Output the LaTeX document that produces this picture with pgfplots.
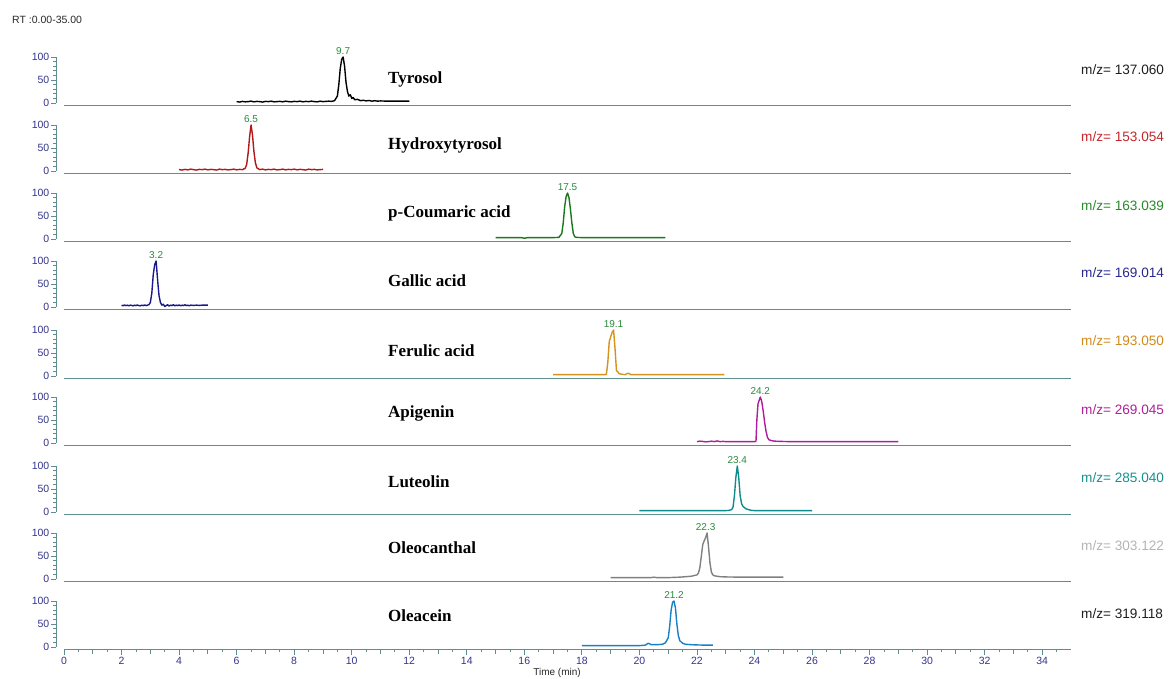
\documentclass[border=0pt]{standalone}
\usepackage{fontspec}
\setmainfont{Liberation Sans}
\newfontfamily\namefont{Liberation Serif}
\usepackage{pgfplots}
\pgfplotsset{compat=1.18}

\definecolor{axcol}{RGB}{95,142,142}
\definecolor{ticknavy}{RGB}{52,52,140}
\definecolor{peakgreen}{RGB}{40,138,58}
\definecolor{rtgray}{RGB}{40,40,40}
% trace colours
\definecolor{cTyr}{RGB}{0,0,0}
\definecolor{cHyd}{RGB}{178,24,24}
\definecolor{cCou}{RGB}{26,120,26}
\definecolor{cGal}{RGB}{24,24,140}
\definecolor{cFer}{RGB}{212,146,30}
\definecolor{cApi}{RGB}{176,28,158}
\definecolor{cLut}{RGB}{16,140,140}
\definecolor{cOlc}{RGB}{128,128,128}
\definecolor{cOla}{RGB}{24,128,196}
% m/z label colours
\definecolor{mTyr}{RGB}{30,30,30}
\definecolor{mHyd}{RGB}{196,38,44}
\definecolor{mCou}{RGB}{40,138,40}
\definecolor{mGal}{RGB}{40,40,144}
\definecolor{mFer}{RGB}{208,138,26}
\definecolor{mApi}{RGB}{176,32,154}
\definecolor{mLut}{RGB}{21,144,144}
\definecolor{mOlc}{RGB}{180,180,180}
\definecolor{mOla}{RGB}{30,30,30}

\pgfplotsset{
  panel/.style={
    width=1015pt, height=46pt, scale only axis,
    xmin=-0.28, xmax=35, ymin=0, ymax=100,
    axis x line=none, axis y line=left,
    anchor=south west,
    ytick={0,50,100}, yticklabels={0,50,100}, minor y tick num=4,
    tick align=outside,
    major tick length=5pt, minor tick length=3pt,
    y axis line style={-, draw=axcol, line width=0.9pt},
    every tick/.style={axcol, line width=0.8pt},
    yticklabel style={font=\fontsize{10.5}{11}\selectfont, text=ticknavy, inner sep=1.5pt},
    clip=false,
  },
  trace/.style={line width=1.4pt, line join=round, mark=none},
}
\tikzset{
  peaklbl/.style={font=\fontsize{10}{11}\selectfont, text=peakgreen, anchor=south, inner sep=1pt, yshift=1.5pt},
  baseln/.style={axcol, line width=1pt},
  cname/.style={anchor=west, font=\namefont\bfseries\fontsize{17}{19}\selectfont, inner sep=0pt},
  mzlbl/.style={anchor=west, font=\fontsize{13.6}{15}\selectfont, inner sep=0pt},
}

\begin{document}
\begin{tikzpicture}
\useasboundingbox (0,0) rectangle (1169pt,679pt);
\node[anchor=west, font=\fontsize{10.5}{12}\selectfont, text=rtgray, inner sep=0pt] at (12pt,659pt) {RT :0.00-35.00};

% Tyrosol
\begin{axis}[panel, at={(56pt,576pt)}]
\addplot[trace, cTyr] coordinates {
(6.0,3) (6.1,2) (6.2,3.5) (6.3,2.5) (6.4,3) (6.5,4) (6.6,2.5) (6.7,3.5) (6.8,3) (6.9,2)
(7.0,3.5) (7.1,3) (7.2,4) (7.3,2.5) (7.4,3) (7.5,3.5) (7.6,2.5) (7.7,4) (7.8,3) (7.9,2.5)
(8.0,3.5) (8.1,3) (8.2,4) (8.3,2.5) (8.4,3.5) (8.5,3) (8.6,4) (8.7,3) (8.8,2.5) (8.9,4)
(9.0,3) (9.1,3.5) (9.2,4) (9.3,3.5) (9.4,5) (9.5,15) (9.55,40) (9.6,75) (9.65,95) (9.7,100)
(9.75,80) (9.8,45) (9.85,25) (9.9,15) (9.95,18) (10.0,10) (10.05,12) (10.1,7) (10.2,8)
(10.3,5) (10.4,6) (10.5,4.5) (10.6,5.5) (10.7,4) (10.8,5) (10.9,4) (11.0,4.5) (11.2,4)
(11.5,4) (12.0,4)};
\draw[baseln] (axis cs:0,-6.5) -- (axis cs:35,-6.5);
\node[peaklbl] at (axis cs:9.7,100) {9.7};
\end{axis}

% Hydroxytyrosol
\begin{axis}[panel, at={(56pt,508pt)}]
\addplot[trace, cHyd] coordinates {
(4.0,3) (4.1,2) (4.2,3.5) (4.3,2.5) (4.4,4) (4.5,3) (4.6,2) (4.7,3.5) (4.8,3) (4.9,4)
(5.0,2.5) (5.1,3.5) (5.2,3) (5.3,2) (5.4,4) (5.5,3) (5.6,3.5) (5.7,2.5) (5.8,3) (5.9,4)
(6.0,2.5) (6.1,3.5) (6.2,3) (6.3,6) (6.35,15) (6.4,40) (6.45,75) (6.5,100) (6.55,78)
(6.6,42) (6.65,18) (6.7,7) (6.8,3) (6.9,4) (7.0,2.5) (7.1,3.5) (7.2,3) (7.3,4) (7.4,2.5)
(7.5,3) (7.6,4) (7.7,2.5) (7.8,3.5) (7.9,3) (8.0,4) (8.1,2.5) (8.2,3.5) (8.3,3) (8.4,2)
(8.5,4) (8.6,3) (8.7,3.5) (8.8,2.5) (8.9,3) (9.0,3.5)};
\draw[baseln] (axis cs:0,-6.5) -- (axis cs:35,-6.5);
\node[peaklbl] at (axis cs:6.5,100) {6.5};
\end{axis}

% p-Coumaric acid
\begin{axis}[panel, at={(56pt,440pt)}]
\addplot[trace, cCou] coordinates {
(15.0,3) (15.5,3) (15.9,3) (16.0,1.5) (16.1,3) (16.5,3) (17.0,3) (17.2,3.5) (17.3,12)
(17.35,35) (17.4,70) (17.45,92) (17.5,100) (17.55,90) (17.6,65) (17.65,35) (17.7,12)
(17.75,5) (17.8,3.5) (18.0,3) (19.0,3) (20.0,3) (20.9,3)};
\draw[baseln] (axis cs:0,-6.5) -- (axis cs:35,-6.5);
\node[peaklbl] at (axis cs:17.5,100) {17.5};
\end{axis}

% Gallic acid
\begin{axis}[panel, at={(56pt,372pt)}]
\addplot[trace, cGal] coordinates {
(2.0,4) (2.05,2.5) (2.1,4.5) (2.15,3) (2.2,4) (2.25,2.5) (2.3,4) (2.35,3.5) (2.4,2.5)
(2.45,4) (2.5,3) (2.55,4.5) (2.6,3) (2.65,2.5) (2.7,4) (2.75,3) (2.8,4.5) (2.85,3) (2.9,4)
(2.95,5) (3.0,10) (3.05,30) (3.1,70) (3.15,92) (3.2,100) (3.25,60) (3.3,25) (3.35,10)
(3.4,4) (3.45,6) (3.5,1) (3.55,3) (3.6,5) (3.65,2) (3.7,4) (3.75,3) (3.8,5) (3.85,2.5)
(3.9,4) (3.95,3) (4.0,4.5) (4.05,2.5) (4.1,4) (4.15,3) (4.2,5) (4.25,3) (4.3,4) (4.35,2.5)
(4.4,4) (4.5,3.5) (4.6,4) (4.7,3.5) (4.8,4) (5.0,4)};
\draw[baseln] (axis cs:0,-6.5) -- (axis cs:35,-6.5);
\node[peaklbl] at (axis cs:3.2,100) {3.2};
\end{axis}

% Ferulic acid
\begin{axis}[panel, at={(56pt,303pt)}]
\addplot[trace, cFer] coordinates {
(17.0,3) (18.0,3) (18.8,3) (18.85,4) (18.9,30) (18.95,75) (19.0,85) (19.05,95) (19.1,100)
(19.15,60) (19.2,12) (19.3,5) (19.4,3.5) (19.5,3) (19.6,6) (19.65,5) (19.7,3) (20.0,3)
(21.0,3) (22.0,3) (22.95,3)};
\draw[baseln] (axis cs:0,-6.5) -- (axis cs:35,-6.5);
\node[peaklbl] at (axis cs:19.1,100) {19.1};
\end{axis}

% Apigenin
\begin{axis}[panel, at={(56pt,236pt)}]
\addplot[trace, cApi] coordinates {
(22.0,3) (22.1,4) (22.2,3.5) (22.3,2.5) (22.4,3) (22.5,4) (22.6,3) (22.7,4.5) (22.8,3)
(22.9,3.5) (23.0,3) (23.5,3) (24.0,3) (24.05,4) (24.08,50) (24.12,85) (24.2,100)
(24.25,90) (24.3,70) (24.35,45) (24.4,25) (24.45,12) (24.5,7) (24.6,5) (24.7,4)
(24.9,3.5) (25.2,3) (26.0,3) (27.0,3) (28.0,3) (29.0,3)};
\draw[baseln] (axis cs:0,-6.5) -- (axis cs:35,-6.5);
\node[peaklbl] at (axis cs:24.2,100) {24.2};
\end{axis}

% Luteolin
\begin{axis}[panel, at={(56pt,167pt)}]
\addplot[trace, cLut] coordinates {
(20.0,3) (21.0,3) (22.0,3) (23.0,3) (23.1,3.5) (23.2,5) (23.25,10) (23.3,35) (23.35,75)
(23.4,100) (23.45,75) (23.5,35) (23.55,18) (23.6,12) (23.7,7) (23.8,5) (23.9,3.5)
(24.0,3) (25.0,3) (26.0,3)};
\draw[baseln] (axis cs:0,-6.5) -- (axis cs:35,-6.5);
\node[peaklbl] at (axis cs:23.4,100) {23.4};
\end{axis}

% Oleocanthal
\begin{axis}[panel, at={(56pt,100pt)}]
\addplot[trace, cOlc] coordinates {
(19.0,3) (19.5,3) (20.0,3) (20.4,3) (20.5,4) (20.6,3) (21.0,3) (21.4,4) (21.6,5) (21.8,6)
(22.0,9) (22.05,13) (22.1,25) (22.15,50) (22.2,75) (22.25,83) (22.3,90) (22.35,100)
(22.4,70) (22.45,35) (22.5,15) (22.55,9) (22.6,7) (22.8,5) (23.0,4.5) (23.5,4) (24.0,4)
(25.0,4)};
\draw[baseln] (axis cs:0,-6.5) -- (axis cs:35,-6.5);
\node[peaklbl] at (axis cs:22.3,100) {22.3};
\end{axis}

% Oleacein
\begin{axis}[panel, at={(56pt,32pt)}]
\addplot[trace, cOla] coordinates {
(18.0,3) (19.0,3) (20.0,3) (20.2,4) (20.3,8) (20.35,7) (20.4,5) (20.6,5) (20.8,6)
(20.9,9) (21.0,20) (21.05,45) (21.1,80) (21.15,97) (21.2,100) (21.25,85) (21.3,50)
(21.35,25) (21.4,14) (21.5,8) (21.6,6) (21.8,5) (22.0,4.5) (22.3,4) (22.55,4)};
\node[peaklbl] at (axis cs:21.2,100) {21.2};
\end{axis}

% time axis
\begin{axis}[
  at={(64pt,29pt)}, anchor=south west,
  width=1007pt, height=10pt, scale only axis,
  xmin=0, xmax=35, ymin=0, ymax=1,
  axis y line=none, axis x line=bottom,
  x axis line style={-, draw=axcol, line width=1pt},
  tick align=outside,
  xtick={0,2,4,6,8,10,12,14,16,18,20,22,24,26,28,30,32,34},
  xticklabels={0,2,4,6,8,10,12,14,16,18,20,22,24,26,28,30,32,34},
  minor xtick={0.5,1.5,...,34.5},
  extra x ticks={1,3,5,7,9,11,13,15,17,19,21,23,25,27,29,31,33},
  extra x tick labels={},
  extra x tick style={major tick length=4pt},
  major tick length=5.5pt, minor tick length=2.5pt,
  every tick/.style={axcol, line width=0.8pt},
  xticklabel style={font=\fontsize{10.5}{11}\selectfont, text=ticknavy, anchor=north, inner sep=1.5pt},
  typeset ticklabels with strut,
  clip=false,
]
\addplot[draw=none] coordinates {(0,0) (35,0)};
\end{axis}
\node[anchor=south, font=\fontsize{10}{11}\selectfont, text=rtgray, inner sep=0pt] at (557pt,1pt) {Time (min)};

% compound names
\node[cname] at (388pt,600pt) {Tyrosol};
\node[cname] at (388pt,534pt) {Hydroxytyrosol};
\node[cname] at (388pt,466pt) {p-Coumaric acid};
\node[cname] at (388pt,398pt) {Gallic acid};
\node[cname] at (388pt,328pt) {Ferulic acid};
\node[cname] at (388pt,266pt) {Apigenin};
\node[cname] at (388pt,197pt) {Luteolin};
\node[cname] at (388pt,131pt) {Oleocanthal};
\node[cname] at (388pt,63pt) {Oleacein};

% m/z labels
\node[mzlbl, text=mTyr] at (1081pt,609pt) {m/z= 137.060};
\node[mzlbl, text=mHyd] at (1081pt,542pt) {m/z= 153.054};
\node[mzlbl, text=mCou] at (1081pt,473pt) {m/z= 163.039};
\node[mzlbl, text=mGal] at (1081pt,406pt) {m/z= 169.014};
\node[mzlbl, text=mFer] at (1081pt,338pt) {m/z= 193.050};
\node[mzlbl, text=mApi] at (1081pt,269pt) {m/z= 269.045};
\node[mzlbl, text=mLut] at (1081pt,201pt) {m/z= 285.040};
\node[mzlbl, text=mOlc] at (1081pt,133pt) {m/z= 303.122};
\node[mzlbl, text=mOla] at (1081pt,65pt) {m/z= 319.118};
\end{tikzpicture}
\end{document}
